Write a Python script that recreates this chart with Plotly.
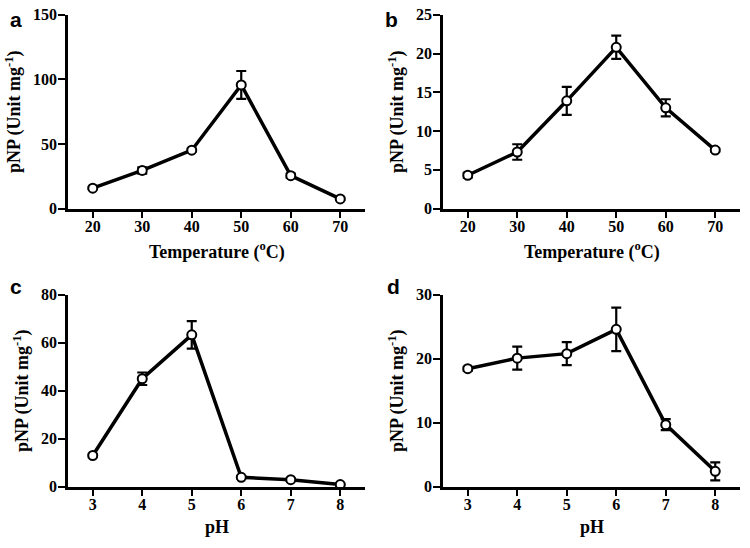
import plotly.graph_objects as go
from plotly.subplots import make_subplots

temp = [20, 30, 40, 50, 60, 70]
ph = [3, 4, 5, 6, 7, 8]

a_vals = [15.8, 29.5, 45.2, 95.7, 25.5, 7.5]
a_err = [0.8, 2.5, 1.0, 10.8, 1.5, 0.8]
b_vals = [4.3, 7.3, 13.9, 20.8, 13.0, 7.55]
b_err = [0.3, 1.0, 1.8, 1.5, 1.1, 0.2]
c_vals = [13.0, 45.0, 63.3, 3.9, 2.9, 0.9]
c_err = [0.5, 2.6, 5.7, 0.5, 0.5, 0.3]
d_vals = [18.45, 20.1, 20.8, 24.6, 9.7, 2.4]
d_err = [0.3, 1.8, 1.8, 3.4, 0.85, 1.4]

a_ticks = [0, 50, 100, 150]
b_ticks = [0, 5, 10, 15, 20, 25]
c_ticks = [0, 20, 40, 60, 80]
d_ticks = [0, 10, 20, 30]

panels = [
    ("a", temp, a_vals, a_err, a_ticks, "Temperature (<sup>o</sup>C)", [15, 75]),
    ("b", temp, b_vals, b_err, b_ticks, "Temperature (<sup>o</sup>C)", [15, 75]),
    ("c", ph, c_vals, c_err, c_ticks, "pH", [2.5, 8.5]),
    ("d", ph, d_vals, d_err, d_ticks, "pH", [2.5, 8.5]),
]

W, H = 750, 548
fig = make_subplots(rows=2, cols=2)

xdom = [[68 / W, 365 / W], [443 / W, 740 / W]]
ydom = [[1 - 207 / H, 1 - 7 / H], [1 - 494 / H, 1 - 296 / H]]
label_pos = [(16, 12), (391, 12), (16, 287), (393, 287)]
xtitle_y = [251, 251, 536, 536]

serif = "Liberation Serif"
for i, (lab, xs, ys, es, ticks, xtitle, xr) in enumerate(panels):
    r, c = i // 2 + 1, i % 2 + 1
    fig.add_trace(go.Scatter(
        x=xs, y=ys, mode="lines+markers",
        line=dict(color="black", width=3.5),
        marker=dict(symbol="circle", size=9, color="white",
                    line=dict(color="black", width=2)),
        error_y=dict(type="data", array=es, visible=True, color="black",
                     thickness=2.2, width=5),
        cliponaxis=False, showlegend=False,
    ), row=r, col=c)
    fig.update_xaxes(
        domain=xdom[c - 1], range=xr, tickvals=xs,
        showline=True, linecolor="black", linewidth=2.5,
        ticks="outside", ticklen=7, tickwidth=2, tickcolor="black",
        ticklabelstandoff=-6,
        showgrid=False, zeroline=False,
        tickfont=dict(family=serif, size=16, color="black", weight="bold"),
        row=r, col=c)
    fig.update_yaxes(
        domain=ydom[r - 1], range=[ticks[0], ticks[-1]], tickvals=ticks,
        showline=True, linecolor="black", linewidth=2.5,
        ticks="outside", ticklen=7, tickwidth=2, tickcolor="black",
        ticklabelstandoff=-2,
        showgrid=False, zeroline=False,
        tickfont=dict(family=serif, size=16, color="black", weight="bold"),
        title=dict(text="pNP (Unit mg<sup>-1</sup>)", standoff=8,
                   font=dict(family=serif, size=18, color="black", weight="bold")),
        row=r, col=c)
    fig.add_annotation(
        x=sum(xdom[c - 1]) / 2, y=1 - xtitle_y[i] / H, xref="paper", yref="paper",
        text=xtitle, showarrow=False, xanchor="center", yanchor="middle",
        font=dict(family=serif, size=18, color="black", weight="bold"))
    lx, ly = label_pos[i]
    fig.add_annotation(
        x=lx / W, y=1 - ly / H, xref="paper", yref="paper",
        text=lab, showarrow=False, xanchor="center", yanchor="middle",
        font=dict(family="Liberation Sans", size=21, color="black", weight="bold"))

fig.update_layout(
    width=W, height=H, margin=dict(l=0, r=0, t=0, b=0),
    plot_bgcolor="white", paper_bgcolor="white",
)
fig.write_html("out.html", config={"displayModeBar": False},
               post_script="document.body.style.margin='0';")
